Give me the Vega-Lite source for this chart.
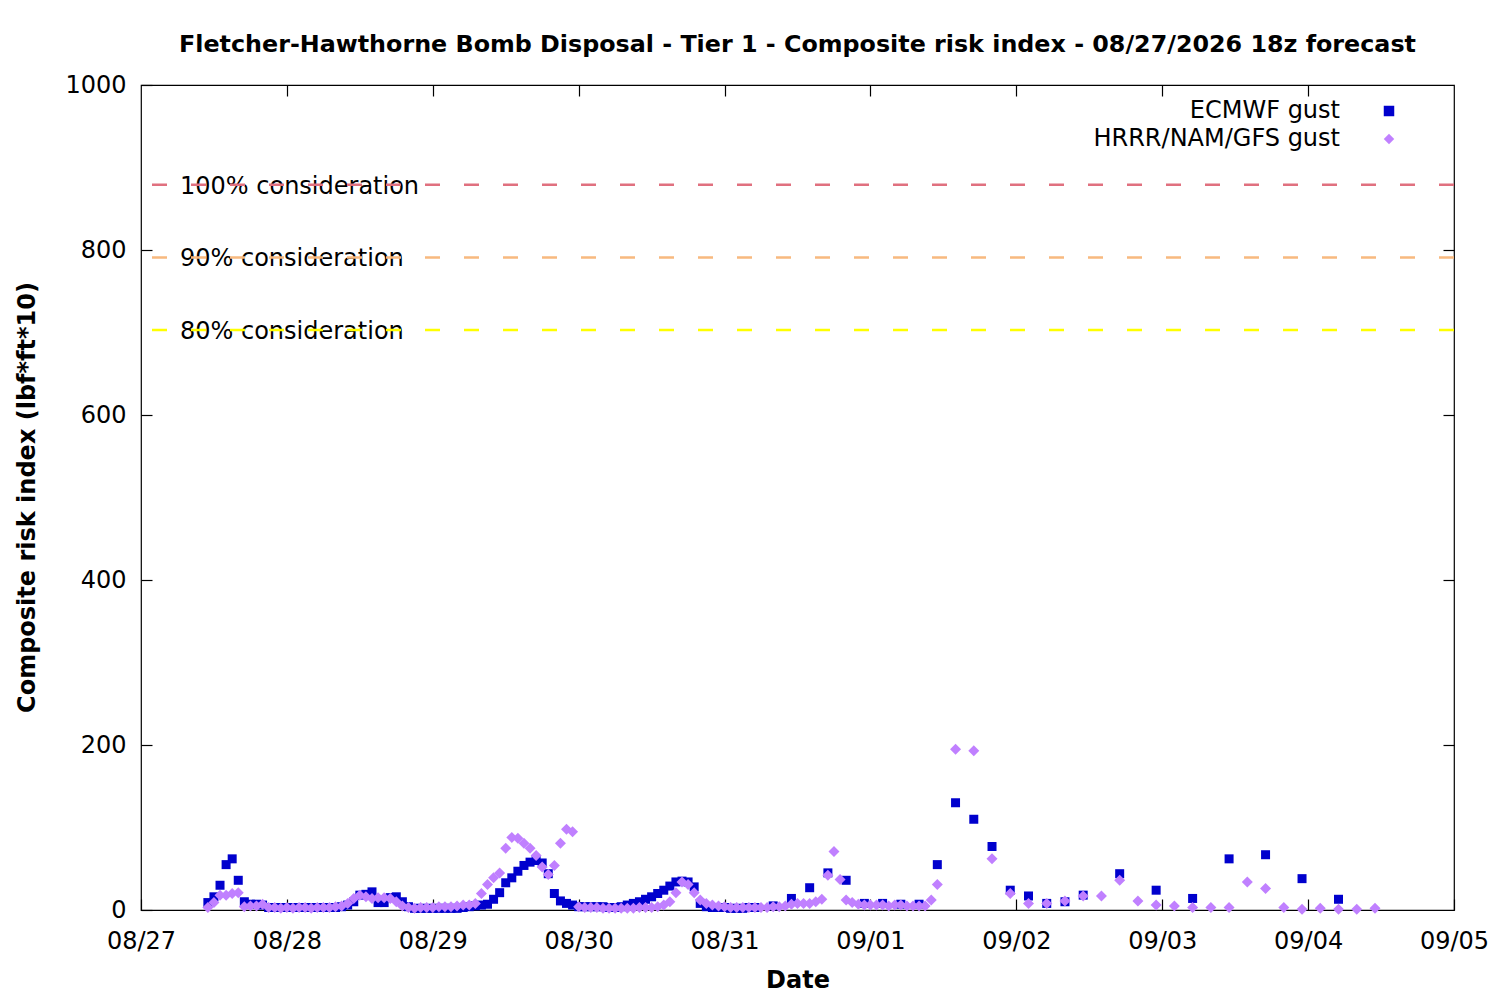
{
  "$schema": "https://vega.github.io/schema/vega-lite/v6.json",
  "width": 1313,
  "height": 825,
  "autosize": "none",
  "padding": {"left": 141, "top": 85, "right": 46, "bottom": 90},
  "background": "white",
  "title": {
    "text": "Fletcher-Hawthorne Bomb Disposal - Tier 1 - Composite risk index - 08/27/2026 18z forecast",
    "font": "DejaVu Sans",
    "fontSize": 23.8,
    "fontWeight": "bold",
    "color": "black",
    "baseline": "alphabetic",
    "offset": -3
  },
  "config": {
    "view": {"stroke": "black", "strokeWidth": 1.2},
    "axis": {
      "domain": false,
      "grid": false,
      "labelFont": "DejaVu Sans",
      "labelFontSize": 24,
      "labelColor": "black",
      "labelFlush": false,
      "labelOverlap": false,
      "tickColor": "black",
      "tickSize": -11,
      "tickWidth": 1.2,
      "titleFont": "DejaVu Sans",
      "titleFontSize": 24,
      "titleFontWeight": "bold",
      "titleColor": "black"
    },
    "legend": {
      "orient": "none",
      "legendX": 1236,
      "legendY": 14,
      "padding": 0,
      "labelFont": "DejaVu Sans",
      "labelFontSize": 24,
      "labelColor": "black",
      "labelLimit": 400,
      "labelAlign": "right",
      "labelOffset": -61,
      "rowPadding": 4,
      "symbolSize": 110,
      "symbolStrokeWidth": 0,
      "symbolOpacity": 1
    }
  },
  "datasets": {
    "thresholds": [
      {"label": "100% consideration", "v": 879},
      {"label": "90% consideration", "v": 791},
      {"label": "80% consideration", "v": 703}
    ],
    "ecmwf": [
      {"t": "2026-08-27T11:00Z", "v": 9}, {"t": "2026-08-27T12:00Z", "v": 16}, {"t": "2026-08-27T13:00Z", "v": 30},
      {"t": "2026-08-27T14:00Z", "v": 55}, {"t": "2026-08-27T15:00Z", "v": 62}, {"t": "2026-08-27T16:00Z", "v": 36},
      {"t": "2026-08-27T17:00Z", "v": 10}, {"t": "2026-08-27T18:00Z", "v": 7}, {"t": "2026-08-27T19:00Z", "v": 7},
      {"t": "2026-08-27T20:00Z", "v": 6}, {"t": "2026-08-27T21:00Z", "v": 3}, {"t": "2026-08-27T22:00Z", "v": 3},
      {"t": "2026-08-27T23:00Z", "v": 3},
      {"t": "2026-08-28T00:00Z", "v": 3}, {"t": "2026-08-28T01:00Z", "v": 3}, {"t": "2026-08-28T02:00Z", "v": 3},
      {"t": "2026-08-28T03:00Z", "v": 3}, {"t": "2026-08-28T04:00Z", "v": 3}, {"t": "2026-08-28T05:00Z", "v": 3},
      {"t": "2026-08-28T06:00Z", "v": 3}, {"t": "2026-08-28T07:00Z", "v": 3}, {"t": "2026-08-28T08:00Z", "v": 3},
      {"t": "2026-08-28T09:00Z", "v": 4}, {"t": "2026-08-28T10:00Z", "v": 6}, {"t": "2026-08-28T11:00Z", "v": 10},
      {"t": "2026-08-28T12:00Z", "v": 18}, {"t": "2026-08-28T13:00Z", "v": 19}, {"t": "2026-08-28T14:00Z", "v": 22},
      {"t": "2026-08-28T15:00Z", "v": 9}, {"t": "2026-08-28T16:00Z", "v": 9}, {"t": "2026-08-28T17:00Z", "v": 15},
      {"t": "2026-08-28T18:00Z", "v": 16}, {"t": "2026-08-28T19:00Z", "v": 10}, {"t": "2026-08-28T20:00Z", "v": 4},
      {"t": "2026-08-28T21:00Z", "v": 2}, {"t": "2026-08-28T22:00Z", "v": 2}, {"t": "2026-08-28T23:00Z", "v": 2},
      {"t": "2026-08-29T00:00Z", "v": 2}, {"t": "2026-08-29T01:00Z", "v": 2}, {"t": "2026-08-29T02:00Z", "v": 2},
      {"t": "2026-08-29T03:00Z", "v": 2}, {"t": "2026-08-29T04:00Z", "v": 2}, {"t": "2026-08-29T05:00Z", "v": 3},
      {"t": "2026-08-29T06:00Z", "v": 4}, {"t": "2026-08-29T07:00Z", "v": 5}, {"t": "2026-08-29T08:00Z", "v": 6},
      {"t": "2026-08-29T09:00Z", "v": 7}, {"t": "2026-08-29T10:00Z", "v": 13}, {"t": "2026-08-29T11:00Z", "v": 21},
      {"t": "2026-08-29T12:00Z", "v": 33}, {"t": "2026-08-29T13:00Z", "v": 39}, {"t": "2026-08-29T14:00Z", "v": 47},
      {"t": "2026-08-29T15:00Z", "v": 54}, {"t": "2026-08-29T16:00Z", "v": 58}, {"t": "2026-08-29T17:00Z", "v": 60},
      {"t": "2026-08-29T18:00Z", "v": 57}, {"t": "2026-08-29T19:00Z", "v": 44}, {"t": "2026-08-29T20:00Z", "v": 20},
      {"t": "2026-08-29T21:00Z", "v": 11}, {"t": "2026-08-29T22:00Z", "v": 8}, {"t": "2026-08-29T23:00Z", "v": 6},
      {"t": "2026-08-30T00:00Z", "v": 4}, {"t": "2026-08-30T01:00Z", "v": 4}, {"t": "2026-08-30T02:00Z", "v": 4},
      {"t": "2026-08-30T03:00Z", "v": 4}, {"t": "2026-08-30T04:00Z", "v": 4}, {"t": "2026-08-30T05:00Z", "v": 3},
      {"t": "2026-08-30T06:00Z", "v": 3}, {"t": "2026-08-30T07:00Z", "v": 4}, {"t": "2026-08-30T08:00Z", "v": 6},
      {"t": "2026-08-30T09:00Z", "v": 8}, {"t": "2026-08-30T10:00Z", "v": 10}, {"t": "2026-08-30T11:00Z", "v": 13},
      {"t": "2026-08-30T12:00Z", "v": 16}, {"t": "2026-08-30T13:00Z", "v": 20}, {"t": "2026-08-30T14:00Z", "v": 24},
      {"t": "2026-08-30T15:00Z", "v": 29}, {"t": "2026-08-30T16:00Z", "v": 34}, {"t": "2026-08-30T17:00Z", "v": 35},
      {"t": "2026-08-30T18:00Z", "v": 34}, {"t": "2026-08-30T19:00Z", "v": 28}, {"t": "2026-08-30T20:00Z", "v": 8},
      {"t": "2026-08-30T21:00Z", "v": 4}, {"t": "2026-08-30T22:00Z", "v": 3}, {"t": "2026-08-30T23:00Z", "v": 3},
      {"t": "2026-08-31T00:00Z", "v": 3}, {"t": "2026-08-31T01:00Z", "v": 2}, {"t": "2026-08-31T02:00Z", "v": 2},
      {"t": "2026-08-31T03:00Z", "v": 2}, {"t": "2026-08-31T04:00Z", "v": 3}, {"t": "2026-08-31T05:00Z", "v": 3},
      {"t": "2026-08-31T08:00Z", "v": 5}, {"t": "2026-08-31T11:00Z", "v": 14}, {"t": "2026-08-31T14:00Z", "v": 27},
      {"t": "2026-08-31T17:00Z", "v": 45}, {"t": "2026-08-31T20:00Z", "v": 36}, {"t": "2026-08-31T23:00Z", "v": 8},
      {"t": "2026-09-01T02:00Z", "v": 8}, {"t": "2026-09-01T05:00Z", "v": 7}, {"t": "2026-09-01T08:00Z", "v": 7},
      {"t": "2026-09-01T11:00Z", "v": 55}, {"t": "2026-09-01T14:00Z", "v": 130}, {"t": "2026-09-01T17:00Z", "v": 110},
      {"t": "2026-09-01T20:00Z", "v": 77}, {"t": "2026-09-01T23:00Z", "v": 24},
      {"t": "2026-09-02T02:00Z", "v": 17}, {"t": "2026-09-02T05:00Z", "v": 8}, {"t": "2026-09-02T08:00Z", "v": 10},
      {"t": "2026-09-02T11:00Z", "v": 18}, {"t": "2026-09-02T17:00Z", "v": 44}, {"t": "2026-09-02T23:00Z", "v": 24},
      {"t": "2026-09-03T05:00Z", "v": 14}, {"t": "2026-09-03T11:00Z", "v": 62}, {"t": "2026-09-03T17:00Z", "v": 67},
      {"t": "2026-09-03T23:00Z", "v": 38}, {"t": "2026-09-04T05:00Z", "v": 13}
    ],
    "hrrr": [
      {"t": "2026-08-27T11:00Z", "v": 3}, {"t": "2026-08-27T12:00Z", "v": 9}, {"t": "2026-08-27T13:00Z", "v": 18},
      {"t": "2026-08-27T14:00Z", "v": 18}, {"t": "2026-08-27T15:00Z", "v": 20}, {"t": "2026-08-27T16:00Z", "v": 21},
      {"t": "2026-08-27T17:00Z", "v": 4}, {"t": "2026-08-27T18:00Z", "v": 5}, {"t": "2026-08-27T19:00Z", "v": 5},
      {"t": "2026-08-27T20:00Z", "v": 7}, {"t": "2026-08-27T21:00Z", "v": 3}, {"t": "2026-08-27T22:00Z", "v": 3},
      {"t": "2026-08-27T23:00Z", "v": 2},
      {"t": "2026-08-28T00:00Z", "v": 3}, {"t": "2026-08-28T01:00Z", "v": 2}, {"t": "2026-08-28T02:00Z", "v": 3},
      {"t": "2026-08-28T03:00Z", "v": 3}, {"t": "2026-08-28T04:00Z", "v": 2}, {"t": "2026-08-28T05:00Z", "v": 3},
      {"t": "2026-08-28T06:00Z", "v": 3}, {"t": "2026-08-28T07:00Z", "v": 3}, {"t": "2026-08-28T08:00Z", "v": 4},
      {"t": "2026-08-28T09:00Z", "v": 5}, {"t": "2026-08-28T10:00Z", "v": 8}, {"t": "2026-08-28T11:00Z", "v": 14},
      {"t": "2026-08-28T12:00Z", "v": 18}, {"t": "2026-08-28T13:00Z", "v": 16}, {"t": "2026-08-28T14:00Z", "v": 14},
      {"t": "2026-08-28T15:00Z", "v": 15}, {"t": "2026-08-28T16:00Z", "v": 15}, {"t": "2026-08-28T17:00Z", "v": 14},
      {"t": "2026-08-28T18:00Z", "v": 10}, {"t": "2026-08-28T19:00Z", "v": 5}, {"t": "2026-08-28T20:00Z", "v": 3},
      {"t": "2026-08-28T21:00Z", "v": 2}, {"t": "2026-08-28T22:00Z", "v": 3}, {"t": "2026-08-28T23:00Z", "v": 3},
      {"t": "2026-08-29T00:00Z", "v": 3}, {"t": "2026-08-29T01:00Z", "v": 4}, {"t": "2026-08-29T02:00Z", "v": 4},
      {"t": "2026-08-29T03:00Z", "v": 4}, {"t": "2026-08-29T04:00Z", "v": 5}, {"t": "2026-08-29T05:00Z", "v": 6},
      {"t": "2026-08-29T06:00Z", "v": 6}, {"t": "2026-08-29T07:00Z", "v": 8}, {"t": "2026-08-29T08:00Z", "v": 20},
      {"t": "2026-08-29T09:00Z", "v": 31}, {"t": "2026-08-29T10:00Z", "v": 39}, {"t": "2026-08-29T11:00Z", "v": 45},
      {"t": "2026-08-29T12:00Z", "v": 75}, {"t": "2026-08-29T13:00Z", "v": 88}, {"t": "2026-08-29T14:00Z", "v": 87},
      {"t": "2026-08-29T15:00Z", "v": 81}, {"t": "2026-08-29T16:00Z", "v": 75}, {"t": "2026-08-29T17:00Z", "v": 66},
      {"t": "2026-08-29T18:00Z", "v": 52}, {"t": "2026-08-29T19:00Z", "v": 43}, {"t": "2026-08-29T20:00Z", "v": 54},
      {"t": "2026-08-29T21:00Z", "v": 81}, {"t": "2026-08-29T22:00Z", "v": 98}, {"t": "2026-08-29T23:00Z", "v": 95},
      {"t": "2026-08-30T00:00Z", "v": 4}, {"t": "2026-08-30T01:00Z", "v": 3}, {"t": "2026-08-30T02:00Z", "v": 3},
      {"t": "2026-08-30T03:00Z", "v": 3}, {"t": "2026-08-30T04:00Z", "v": 2}, {"t": "2026-08-30T05:00Z", "v": 2},
      {"t": "2026-08-30T06:00Z", "v": 2}, {"t": "2026-08-30T07:00Z", "v": 2}, {"t": "2026-08-30T08:00Z", "v": 2},
      {"t": "2026-08-30T09:00Z", "v": 2}, {"t": "2026-08-30T10:00Z", "v": 3}, {"t": "2026-08-30T11:00Z", "v": 3},
      {"t": "2026-08-30T12:00Z", "v": 3}, {"t": "2026-08-30T13:00Z", "v": 4}, {"t": "2026-08-30T14:00Z", "v": 6},
      {"t": "2026-08-30T15:00Z", "v": 10}, {"t": "2026-08-30T16:00Z", "v": 21}, {"t": "2026-08-30T17:00Z", "v": 34},
      {"t": "2026-08-30T18:00Z", "v": 31}, {"t": "2026-08-30T19:00Z", "v": 21}, {"t": "2026-08-30T20:00Z", "v": 12},
      {"t": "2026-08-30T21:00Z", "v": 8}, {"t": "2026-08-30T22:00Z", "v": 6}, {"t": "2026-08-30T23:00Z", "v": 5},
      {"t": "2026-08-31T00:00Z", "v": 4}, {"t": "2026-08-31T01:00Z", "v": 3}, {"t": "2026-08-31T02:00Z", "v": 3},
      {"t": "2026-08-31T03:00Z", "v": 3}, {"t": "2026-08-31T04:00Z", "v": 3}, {"t": "2026-08-31T05:00Z", "v": 3},
      {"t": "2026-08-31T06:00Z", "v": 3}, {"t": "2026-08-31T07:00Z", "v": 3}, {"t": "2026-08-31T08:00Z", "v": 4},
      {"t": "2026-08-31T09:00Z", "v": 4}, {"t": "2026-08-31T10:00Z", "v": 5}, {"t": "2026-08-31T11:00Z", "v": 7},
      {"t": "2026-08-31T12:00Z", "v": 8}, {"t": "2026-08-31T13:00Z", "v": 8}, {"t": "2026-08-31T14:00Z", "v": 8},
      {"t": "2026-08-31T15:00Z", "v": 10}, {"t": "2026-08-31T16:00Z", "v": 13}, {"t": "2026-08-31T17:00Z", "v": 42},
      {"t": "2026-08-31T18:00Z", "v": 71}, {"t": "2026-08-31T19:00Z", "v": 37}, {"t": "2026-08-31T20:00Z", "v": 12},
      {"t": "2026-08-31T21:00Z", "v": 9}, {"t": "2026-08-31T22:00Z", "v": 7}, {"t": "2026-08-31T23:00Z", "v": 6},
      {"t": "2026-09-01T00:00Z", "v": 6}, {"t": "2026-09-01T01:00Z", "v": 6}, {"t": "2026-09-01T02:00Z", "v": 6},
      {"t": "2026-09-01T03:00Z", "v": 5}, {"t": "2026-09-01T04:00Z", "v": 6}, {"t": "2026-09-01T05:00Z", "v": 6},
      {"t": "2026-09-01T06:00Z", "v": 5}, {"t": "2026-09-01T07:00Z", "v": 5}, {"t": "2026-09-01T08:00Z", "v": 5},
      {"t": "2026-09-01T09:00Z", "v": 5}, {"t": "2026-09-01T10:00Z", "v": 12}, {"t": "2026-09-01T11:00Z", "v": 31},
      {"t": "2026-09-01T14:00Z", "v": 195}, {"t": "2026-09-01T17:00Z", "v": 193}, {"t": "2026-09-01T20:00Z", "v": 62},
      {"t": "2026-09-01T23:00Z", "v": 20},
      {"t": "2026-09-02T02:00Z", "v": 8}, {"t": "2026-09-02T05:00Z", "v": 8}, {"t": "2026-09-02T08:00Z", "v": 11},
      {"t": "2026-09-02T11:00Z", "v": 17}, {"t": "2026-09-02T14:00Z", "v": 17}, {"t": "2026-09-02T17:00Z", "v": 36},
      {"t": "2026-09-02T20:00Z", "v": 11}, {"t": "2026-09-02T23:00Z", "v": 6},
      {"t": "2026-09-03T02:00Z", "v": 5}, {"t": "2026-09-03T05:00Z", "v": 3}, {"t": "2026-09-03T08:00Z", "v": 3},
      {"t": "2026-09-03T11:00Z", "v": 3}, {"t": "2026-09-03T14:00Z", "v": 34}, {"t": "2026-09-03T17:00Z", "v": 26},
      {"t": "2026-09-03T20:00Z", "v": 3}, {"t": "2026-09-03T23:00Z", "v": 1},
      {"t": "2026-09-04T02:00Z", "v": 2}, {"t": "2026-09-04T05:00Z", "v": 1}, {"t": "2026-09-04T08:00Z", "v": 1},
      {"t": "2026-09-04T11:00Z", "v": 2}
    ]
  },
  "layer": [
    {
      "data": {"name": "thresholds"},
      "mark": {"type": "text", "align": "left", "baseline": "middle", "dy": 2, "font": "DejaVu Sans", "fontSize": 24, "color": "black"},
      "encoding": {
        "x": {"datum": {"year": 2026, "month": 8, "date": 27, "hours": 6, "minutes": 25, "utc": true}, "type": "temporal", "axis": null},
        "y": {"field": "v", "type": "quantitative", "axis": null},
        "text": {"field": "label"}
      }
    },
    {
      "data": {"name": "thresholds"},
      "mark": {"type": "rule", "strokeWidth": 2.5, "strokeDash": [15, 24]},
      "encoding": {
        "y": {"field": "v", "type": "quantitative", "axis": null},
        "stroke": {
          "field": "label",
          "type": "nominal",
          "scale": {"domain": ["100% consideration", "90% consideration", "80% consideration"], "range": ["#e0707f", "#f8b97f", "#ffff00"]},
          "legend": null
        }
      }
    },
    {
      "data": {"name": "ecmwf"},
      "mark": {"type": "point", "filled": true, "opacity": 1, "size": 81, "strokeWidth": 0},
      "encoding": {
        "x": {
          "field": "t",
          "type": "temporal",
          "scale": {"type": "utc", "domain": [{"year": 2026, "month": 8, "date": 27, "utc": true}, {"year": 2026, "month": 9, "date": 5, "utc": true}], "nice": false},
          "axis": {
            "orient": "bottom",
            "title": "Date",
            "labelExpr": "utcFormat(datum.value, '%m/%d')",
            "labelPadding": 30,
            "titleY": 70,
            "titleBaseline": "middle",
            "values": [
              {"year": 2026, "month": 8, "date": 27, "utc": true}, {"year": 2026, "month": 8, "date": 28, "utc": true},
              {"year": 2026, "month": 8, "date": 29, "utc": true}, {"year": 2026, "month": 8, "date": 30, "utc": true},
              {"year": 2026, "month": 8, "date": 31, "utc": true}, {"year": 2026, "month": 9, "date": 1, "utc": true},
              {"year": 2026, "month": 9, "date": 2, "utc": true}, {"year": 2026, "month": 9, "date": 3, "utc": true},
              {"year": 2026, "month": 9, "date": 4, "utc": true}, {"year": 2026, "month": 9, "date": 5, "utc": true}
            ]
          }
        },
        "y": {
          "field": "v",
          "type": "quantitative",
          "scale": {"domain": [0, 1000], "nice": false},
          "axis": {
            "orient": "left",
            "title": "Composite risk index (lbf*ft*10)",
            "values": [0, 200, 400, 600, 800, 1000],
            "format": "d",
            "labelPadding": 26,
            "titleX": -114,
            "titleY": 412,
            "titleAngle": -90,
            "titleAlign": "center",
            "titleBaseline": "middle"
          }
        },
        "color": {
          "datum": "ECMWF gust",
          "type": "nominal",
          "scale": {"domain": ["ECMWF gust", "HRRR/NAM/GFS gust"], "range": ["#0000cd", "#c080ff"]},
          "legend": {"title": null}
        },
        "shape": {
          "datum": "ECMWF gust",
          "type": "nominal",
          "scale": {"domain": ["ECMWF gust", "HRRR/NAM/GFS gust"], "range": ["square", "diamond"]},
          "legend": {"title": null}
        }
      }
    },
    {
      "data": {"name": "hrrr"},
      "mark": {"type": "point", "filled": true, "opacity": 1, "size": 121, "strokeWidth": 0},
      "encoding": {
        "x": {
          "field": "t",
          "type": "temporal",
          "scale": {"type": "utc", "domain": [{"year": 2026, "month": 8, "date": 27, "utc": true}, {"year": 2026, "month": 9, "date": 5, "utc": true}], "nice": false},
          "axis": {
            "orient": "top",
            "title": null,
            "labels": false,
            "values": [
              {"year": 2026, "month": 8, "date": 28, "utc": true}, {"year": 2026, "month": 8, "date": 29, "utc": true},
              {"year": 2026, "month": 8, "date": 30, "utc": true}, {"year": 2026, "month": 8, "date": 31, "utc": true},
              {"year": 2026, "month": 9, "date": 1, "utc": true}, {"year": 2026, "month": 9, "date": 2, "utc": true},
              {"year": 2026, "month": 9, "date": 3, "utc": true}, {"year": 2026, "month": 9, "date": 4, "utc": true}
            ]
          }
        },
        "y": {
          "field": "v",
          "type": "quantitative",
          "scale": {"domain": [0, 1000], "nice": false},
          "axis": {"orient": "right", "title": null, "labels": false, "values": [200, 400, 600, 800]}
        },
        "color": {"datum": "HRRR/NAM/GFS gust", "type": "nominal"},
        "shape": {"datum": "HRRR/NAM/GFS gust", "type": "nominal"}
      }
    }
  ],
  "resolve": {"axis": {"x": "independent", "y": "independent"}}
}
